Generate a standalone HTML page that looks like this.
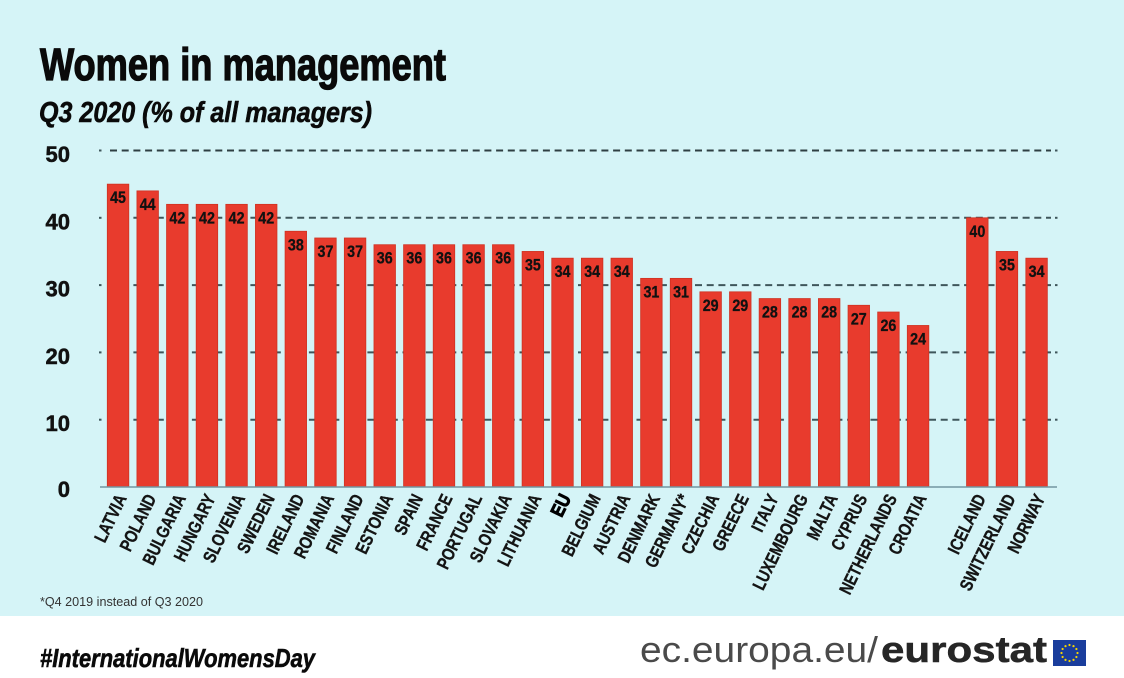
<!DOCTYPE html>
<html><head><meta charset="utf-8"><style>
html,body{margin:0;padding:0;background:#fff;}
svg{display:block;}
.v{font-family:"Liberation Sans",sans-serif;font-weight:bold;font-size:17px;fill:#111;stroke:#111;stroke-width:0.3;text-anchor:middle;}
.c{font-family:"Liberation Sans",sans-serif;font-weight:bold;font-size:18px;fill:#141414;stroke:#141414;stroke-width:0.35;text-anchor:end;}
.y{font-family:"Liberation Sans",sans-serif;font-weight:bold;font-size:22px;fill:#111;stroke:#111;stroke-width:0.5;text-anchor:end;}
</style></head><body>
<svg width="1124" height="678" viewBox="0 0 1124 678" xmlns="http://www.w3.org/2000/svg">
<rect x="0" y="0" width="1124" height="616" fill="#d5f4f7"/>
<rect x="0" y="616" width="1124" height="62" fill="#ffffff"/>

<text x="40" y="80" font-family="Liberation Sans, sans-serif" font-weight="bold" font-size="45" fill="#0a0a0a" stroke="#0a0a0a" stroke-width="1.3" textLength="406" lengthAdjust="spacingAndGlyphs">Women in management</text>
<text x="39" y="122" font-family="Liberation Sans, sans-serif" font-weight="bold" font-style="italic" font-size="29" fill="#0a0a0a" stroke="#0a0a0a" stroke-width="0.6" textLength="333" lengthAdjust="spacingAndGlyphs">Q3 2020 (% of all managers)</text>

<!-- gridlines -->
<g stroke="#3f565b" stroke-width="2">
<line x1="110" y1="150.5" x2="1051" y2="150.5" stroke-dasharray="7 4.7" stroke="#2e3f43"/>
<line x1="110" y1="217.8" x2="1051" y2="217.8" stroke-dasharray="7 4.7"/>
<line x1="110" y1="285.1" x2="1051" y2="285.1" stroke-dasharray="7 4.7"/>
<line x1="110" y1="352.4" x2="1051" y2="352.4" stroke-dasharray="7 4.7"/>
<line x1="110" y1="419.7" x2="1051" y2="419.7" stroke-dasharray="7 4.7"/>
</g>
<g fill="#3f565b">
<rect x="99" y="149.5" width="2.5" height="2"/><rect x="1055" y="149.5" width="2.5" height="2"/>
<rect x="99" y="216.8" width="2.5" height="2"/><rect x="1055" y="216.8" width="2.5" height="2"/>
<rect x="99" y="284.1" width="2.5" height="2"/><rect x="1055" y="284.1" width="2.5" height="2"/>
<rect x="99" y="351.4" width="2.5" height="2"/><rect x="1055" y="351.4" width="2.5" height="2"/>
<rect x="99" y="418.7" width="2.5" height="2"/><rect x="1055" y="418.7" width="2.5" height="2"/>
</g>

<!-- y labels -->
<text class="y" x="70" y="162">50</text>
<text class="y" x="70" y="229.3">40</text>
<text class="y" x="70" y="296.6">30</text>
<text class="y" x="70" y="363.9">20</text>
<text class="y" x="70" y="431.2">10</text>
<text class="y" x="70" y="497">0</text>

<!-- bars -->
<g fill="#e83b2d" stroke="#cf3222" stroke-width="0.8">
<rect x="107.3" y="184.15" width="21.5" height="302.85"/>
<rect x="136.93" y="190.88" width="21.5" height="296.12"/>
<rect x="166.56" y="204.34" width="21.5" height="282.66"/>
<rect x="196.19" y="204.34" width="21.5" height="282.66"/>
<rect x="225.82" y="204.34" width="21.5" height="282.66"/>
<rect x="255.45" y="204.34" width="21.5" height="282.66"/>
<rect x="285.08" y="231.26" width="21.5" height="255.74"/>
<rect x="314.71" y="237.99" width="21.5" height="249.01"/>
<rect x="344.34" y="237.99" width="21.5" height="249.01"/>
<rect x="373.97" y="244.72" width="21.5" height="242.28"/>
<rect x="403.6" y="244.72" width="21.5" height="242.28"/>
<rect x="433.23" y="244.72" width="21.5" height="242.28"/>
<rect x="462.86" y="244.72" width="21.5" height="242.28"/>
<rect x="492.49" y="244.72" width="21.5" height="242.28"/>
<rect x="522.12" y="251.45" width="21.5" height="235.55"/>
<rect x="551.75" y="258.18" width="21.5" height="228.82"/>
<rect x="581.38" y="258.18" width="21.5" height="228.82"/>
<rect x="611.01" y="258.18" width="21.5" height="228.82"/>
<rect x="640.64" y="278.37" width="21.5" height="208.63"/>
<rect x="670.27" y="278.37" width="21.5" height="208.63"/>
<rect x="699.9" y="291.83" width="21.5" height="195.17"/>
<rect x="729.53" y="291.83" width="21.5" height="195.17"/>
<rect x="759.16" y="298.56" width="21.5" height="188.44"/>
<rect x="788.79" y="298.56" width="21.5" height="188.44"/>
<rect x="818.42" y="298.56" width="21.5" height="188.44"/>
<rect x="848.05" y="305.29" width="21.5" height="181.71"/>
<rect x="877.68" y="312.02" width="21.5" height="174.98"/>
<rect x="907.31" y="325.48" width="21.5" height="161.52"/>
<rect x="966.57" y="217.8" width="21.5" height="269.2"/>
<rect x="996.2" y="251.45" width="21.5" height="235.55"/>
<rect x="1025.83" y="258.18" width="21.5" height="228.82"/>
</g>

<!-- baseline -->
<line x1="100" y1="487" x2="1057" y2="487" stroke="#7395a0" stroke-width="1.5"/>

<!-- value labels -->
<g class="v">
<text transform="translate(118.05,203.2) scale(0.84,1)">45</text>
<text transform="translate(147.68,209.9) scale(0.84,1)">44</text>
<text transform="translate(177.31,223.3) scale(0.84,1)">42</text>
<text transform="translate(206.94,223.3) scale(0.84,1)">42</text>
<text transform="translate(236.57,223.3) scale(0.84,1)">42</text>
<text transform="translate(266.2,223.3) scale(0.84,1)">42</text>
<text transform="translate(295.83,250.3) scale(0.84,1)">38</text>
<text transform="translate(325.46,257) scale(0.84,1)">37</text>
<text transform="translate(355.09,257) scale(0.84,1)">37</text>
<text transform="translate(384.72,263.7) scale(0.84,1)">36</text>
<text transform="translate(414.35,263.7) scale(0.84,1)">36</text>
<text transform="translate(443.98,263.7) scale(0.84,1)">36</text>
<text transform="translate(473.61,263.7) scale(0.84,1)">36</text>
<text transform="translate(503.24,263.7) scale(0.84,1)">36</text>
<text transform="translate(532.87,270.5) scale(0.84,1)">35</text>
<text transform="translate(562.5,277.2) scale(0.84,1)">34</text>
<text transform="translate(592.13,277.2) scale(0.84,1)">34</text>
<text transform="translate(621.76,277.2) scale(0.84,1)">34</text>
<text transform="translate(651.39,297.4) scale(0.84,1)">31</text>
<text transform="translate(681.02,297.4) scale(0.84,1)">31</text>
<text transform="translate(710.65,310.8) scale(0.84,1)">29</text>
<text transform="translate(740.28,310.8) scale(0.84,1)">29</text>
<text transform="translate(769.91,317.6) scale(0.84,1)">28</text>
<text transform="translate(799.54,317.6) scale(0.84,1)">28</text>
<text transform="translate(829.17,317.6) scale(0.84,1)">28</text>
<text transform="translate(858.8,324.3) scale(0.84,1)">27</text>
<text transform="translate(888.43,331) scale(0.84,1)">26</text>
<text transform="translate(918.06,344.5) scale(0.84,1)">24</text>
<text transform="translate(977.32,236.8) scale(0.84,1)">40</text>
<text transform="translate(1006.95,270.5) scale(0.84,1)">35</text>
<text transform="translate(1036.58,277.2) scale(0.84,1)">34</text>
</g>

<!-- category labels -->
<g class="c">
<text transform="translate(127.1,498) rotate(-64) scale(0.8,1)">LATVIA</text>
<text transform="translate(156.7,498) rotate(-64) scale(0.8,1)">POLAND</text>
<text transform="translate(186.3,498) rotate(-64) scale(0.8,1)">BULGARIA</text>
<text transform="translate(215.9,498) rotate(-64) scale(0.8,1)">HUNGARY</text>
<text transform="translate(245.6,498) rotate(-64) scale(0.8,1)">SLOVENIA</text>
<text transform="translate(275.2,498) rotate(-64) scale(0.8,1)">SWEDEN</text>
<text transform="translate(304.8,498) rotate(-64) scale(0.8,1)">IRELAND</text>
<text transform="translate(334.5,498) rotate(-64) scale(0.8,1)">ROMANIA</text>
<text transform="translate(364.1,498) rotate(-64) scale(0.8,1)">FINLAND</text>
<text transform="translate(393.7,498) rotate(-64) scale(0.8,1)">ESTONIA</text>
<text transform="translate(423.4,498) rotate(-64) scale(0.8,1)">SPAIN</text>
<text transform="translate(453,498) rotate(-64) scale(0.8,1)">FRANCE</text>
<text transform="translate(482.6,498) rotate(-64) scale(0.8,1)">PORTUGAL</text>
<text transform="translate(512.2,498) rotate(-64) scale(0.8,1)">SLOVAKIA</text>
<text transform="translate(541.9,498) rotate(-64) scale(0.8,1)">LITHUANIA</text>
<text transform="translate(571.5,498) rotate(-64) scale(0.85,1)" style="font-size:19px;stroke-width:1;fill:#000;stroke:#000">EU</text>
<text transform="translate(601.1,498) rotate(-64) scale(0.8,1)">BELGIUM</text>
<text transform="translate(630.8,498) rotate(-64) scale(0.8,1)">AUSTRIA</text>
<text transform="translate(660.4,498) rotate(-64) scale(0.8,1)">DENMARK</text>
<text transform="translate(690,498) rotate(-64) scale(0.8,1)">GERMANY*</text>
<text transform="translate(719.7,498) rotate(-64) scale(0.8,1)">CZECHIA</text>
<text transform="translate(749.3,498) rotate(-64) scale(0.8,1)">GREECE</text>
<text transform="translate(778.9,498) rotate(-64) scale(0.8,1)">ITALY</text>
<text transform="translate(808.5,498) rotate(-64) scale(0.8,1)">LUXEMBOURG</text>
<text transform="translate(838.2,498) rotate(-64) scale(0.8,1)">MALTA</text>
<text transform="translate(867.8,498) rotate(-64) scale(0.8,1)">CYPRUS</text>
<text transform="translate(897.4,498) rotate(-64) scale(0.8,1)">NETHERLANDS</text>
<text transform="translate(927.1,498) rotate(-64) scale(0.8,1)">CROATIA</text>
<text transform="translate(986.3,498) rotate(-64) scale(0.8,1)">ICELAND</text>
<text transform="translate(1016,498) rotate(-64) scale(0.8,1)">SWITZERLAND</text>
<text transform="translate(1045.6,498) rotate(-64) scale(0.8,1)">NORWAY</text>
</g>

<text x="40" y="606" font-family="Liberation Sans, sans-serif" font-size="13" fill="#333" textLength="163" lengthAdjust="spacingAndGlyphs">*Q4 2019 instead of Q3 2020</text>

<!-- footer -->
<text x="40" y="667" font-family="Liberation Sans, sans-serif" font-weight="bold" font-style="italic" font-size="26" fill="#0a0a0a" stroke="#0a0a0a" stroke-width="0.6" textLength="275" lengthAdjust="spacingAndGlyphs">#InternationalWomensDay</text>
<text x="640" y="662" font-family="Liberation Sans, sans-serif" font-size="36" fill="#4a4a4a" textLength="238" lengthAdjust="spacingAndGlyphs">ec.europa.eu/</text>
<text x="881" y="662" font-family="Liberation Sans, sans-serif" font-weight="bold" font-size="36" fill="#262626" stroke="#262626" stroke-width="0.5" textLength="166" lengthAdjust="spacingAndGlyphs">eurostat</text>
<rect x="1053" y="640" width="33" height="26" fill="#1a3d9c"/>
<g fill="#f5d400">
<circle cx="1069.5" cy="645" r="1.1"/>
<circle cx="1073.5" cy="646.1" r="1.1"/>
<circle cx="1076.4" cy="649" r="1.1"/>
<circle cx="1077.5" cy="653" r="1.1"/>
<circle cx="1076.4" cy="657" r="1.1"/>
<circle cx="1073.5" cy="659.9" r="1.1"/>
<circle cx="1069.5" cy="661" r="1.1"/>
<circle cx="1065.5" cy="659.9" r="1.1"/>
<circle cx="1062.6" cy="657" r="1.1"/>
<circle cx="1061.5" cy="653" r="1.1"/>
<circle cx="1062.6" cy="649" r="1.1"/>
<circle cx="1065.5" cy="646.1" r="1.1"/>
</g>
</svg>
</body></html>
